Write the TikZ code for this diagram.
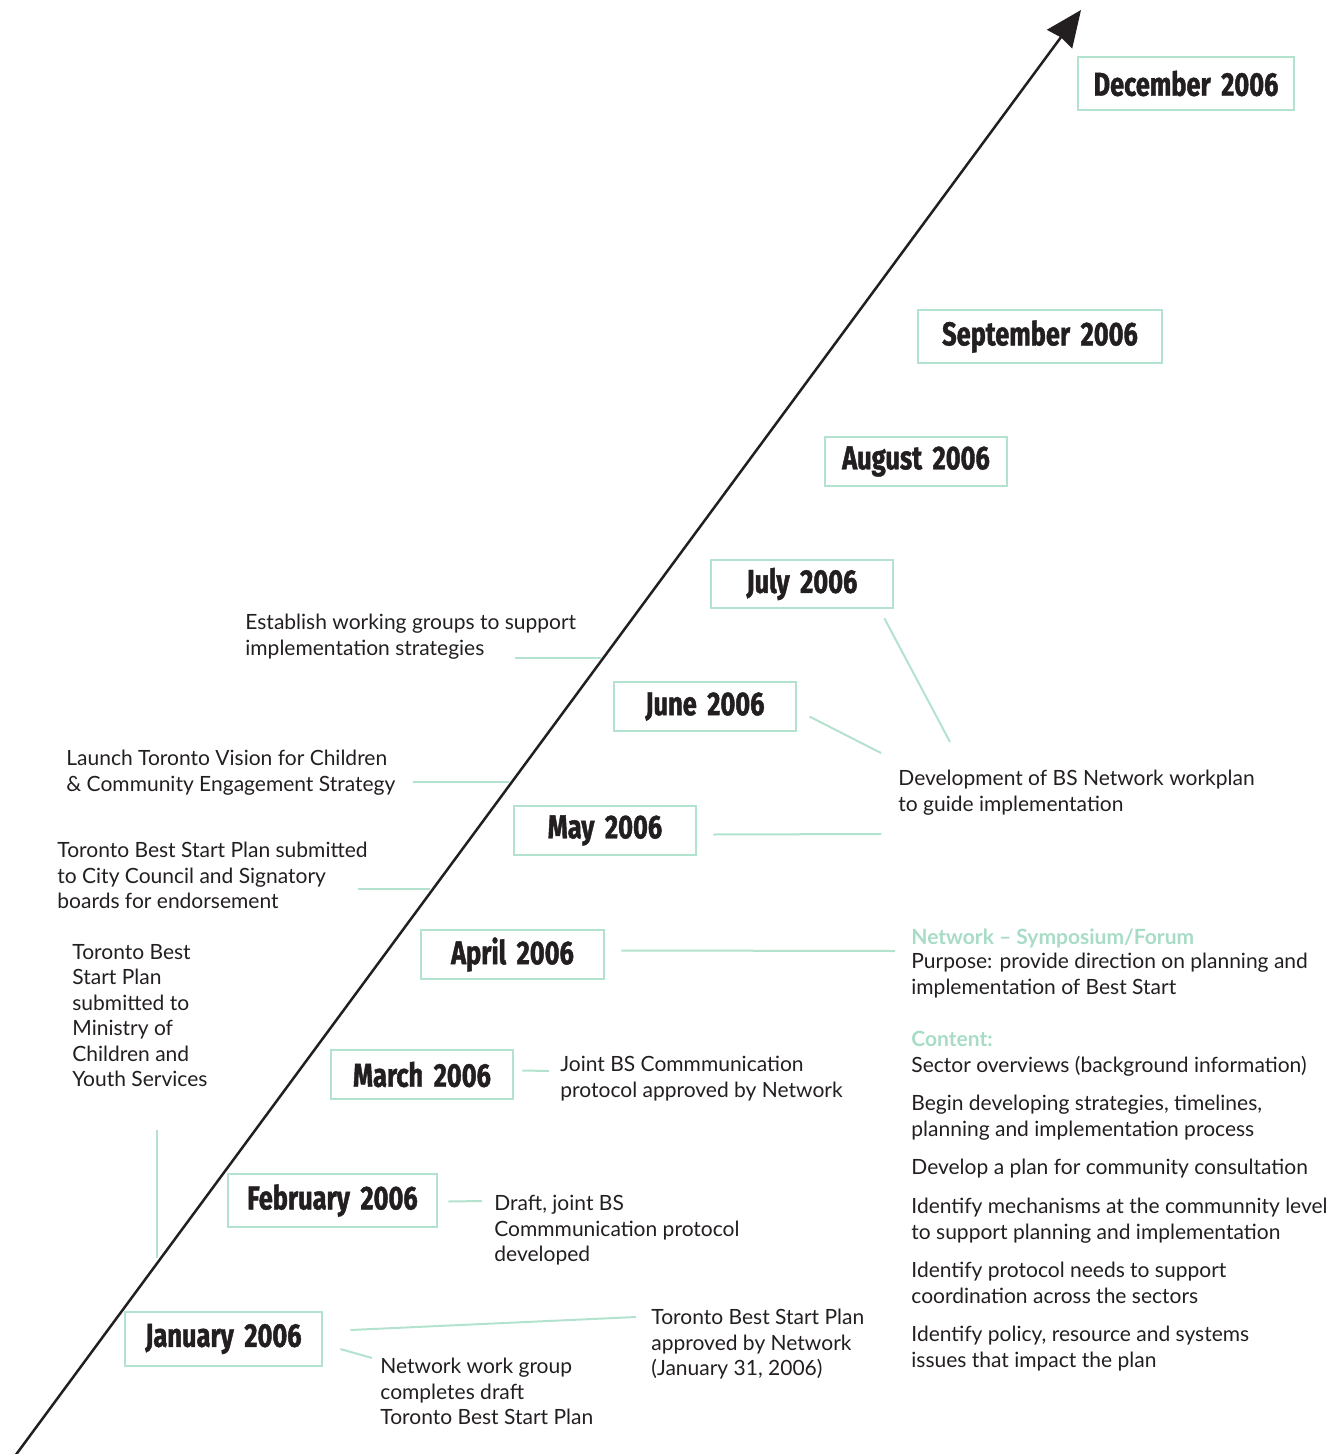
\documentclass[tikz,border=0pt]{standalone}
\usepackage{fontspec}
\setmainfont{Lato}
\newfontfamily\headfont[FakeStretch=0.77,BoldFeatures={FakeBold=1.3}]{Fira Sans}
\usetikzlibrary{arrows.meta}
\definecolor{mint}{HTML}{B3E2CF}
\definecolor{minttext}{HTML}{A8DCC6}
\definecolor{ink}{HTML}{231F20}
\newcommand\headsp{\spaceskip=0.32em\relax}
\tikzset{
  mbox/.style={draw=mint,line width=1.4pt,inner sep=0pt,font=\headfont\bfseries\fontsize{16.5}{18}\selectfont\headsp,text=ink},
  txt/.style={anchor=north west,inner sep=0pt,align=left,font=\fontsize{10.5}{12.75}\selectfont,text=ink},
  conn/.style={draw=mint,line width=1pt},
}
\begin{document}
\begin{tikzpicture}[x=0.5pt,y=-0.5pt]
\useasboundingbox (0,0) rectangle (1332,1454);
% main arrow
\coordinate (a0) at (15,1456);
\coordinate (a1) at (1081,10);
\draw[line width=1.25pt,ink,-{Triangle[length=18pt,width=15.5pt,inset=1pt]}] (a0) -- (a1);

% month boxes
\node[mbox,minimum width=108pt,minimum height=26.5pt] (dec) at (1186,83.5) {\raisebox{-1pt}{December 2006}};
\node[mbox,minimum width=122pt,minimum height=26.5pt] (sep) at (1040,336.5) {\raisebox{-1pt}{September 2006}};
\node[mbox,minimum width=91pt,minimum height=24.5pt] (aug) at (916,461.5) {\raisebox{-1pt}{August 2006}};
\node[mbox,minimum width=91pt,minimum height=24pt] (jul) at (802,584) {\raisebox{-1pt}{July 2006}};
\node[mbox,minimum width=91pt,minimum height=24.5pt] (jun) at (705,706.5) {\raisebox{-1pt}{June 2006}};
\node[mbox,minimum width=91pt,minimum height=24.5pt] (may) at (605,830.5) {\raisebox{-1pt}{May 2006}};
\node[mbox,minimum width=91.5pt,minimum height=24.5pt] (apr) at (512.5,954.5) {\raisebox{-1pt}{April 2006}};
\node[mbox,minimum width=91pt,minimum height=24.5pt] (mar) at (422,1074.5) {\raisebox{-1pt}{March 2006}};
\node[mbox,minimum width=104.5pt,minimum height=26.5pt] (feb) at (332.5,1200.5) {\raisebox{-1pt}{February 2006}};
\node[mbox,minimum width=98.5pt,minimum height=27pt] (jan) at (223.5,1339) {\raisebox{-1pt}{January 2006}};

% left texts
\node[txt] (t1) at (245,614) {Establish working groups to support\\implementation strategies};
\node[txt] (t2) at (66,750) {Launch Toronto Vision for Children\\\& Community Engagement Strategy};
\node[txt] (t3) at (57,842) {Toronto Best Start Plan submitted\\to City Council and Signatory\\boards for endorsement};
\node[txt] (t4) at (72,944) {Toronto Best\\Start Plan\\submitted to\\Ministry of\\Children and\\Youth Services};

\coordinate (c1a) at (515,658); \coordinate (c1b) at (601,658);
\draw[conn] (c1a) -- (c1b);
\coordinate (c2a) at (413,782); \coordinate (c2b) at (509,782);
\draw[conn] (c2a) -- (c2b);
\coordinate (c3a) at (358,889); \coordinate (c3b) at (430,889);
\draw[conn] (c3a) -- (c3b);
\coordinate (c4a) at (157,1130); \coordinate (c4b) at (157,1258);
\draw[conn] (c4a) -- (c4b);

% right texts
\node[txt] (dev) at (898,770) {Development of BS Network workplan\\to guide implementation};
\coordinate (dv1) at (950,742); \coordinate (dv2) at (881,753); \coordinate (dv3) at (881,834);
\draw[conn] ([shift={(-10,9)}]jul.south east) -- (dv1);
\draw[conn] ([shift={(12,10)}]jun.east) -- (dv2);
\draw[conn] ([shift={(16,4)}]may.east) -- (dv3);

\node[txt] (joint) at (560,1056) {Joint BS Commmunication\\protocol approved by Network};
\draw[conn] ([shift={(8,-4)}]mar.east) -- ([shift={(-11,15)}]joint.north west);

\node[txt] (draft) at (494,1195) {Draft, joint BS\\Commmunication protocol\\developed};
\draw[conn] ([shift={(10,1)}]feb.east) -- ([shift={(-12,6)}]draft.north west);

\node[txt] (appr) at (651,1309) {Toronto Best Start Plan\\approved by Network\\(January 31, 2006)};
\draw[conn] ([shift={(27,-9)}]jan.east) -- ([shift={(-15,8)}]appr.north west);

\node[txt] (nwg) at (380,1358) {Network work group\\completes draft\\Toronto Best Start Plan};
\draw[conn] ([shift={(17,10)}]jan.east) -- ([shift={(-8,0)}]nwg.north west);

% April symposium block
\node[txt,text=minttext,font=\fontsize{10.5}{12.75}\selectfont\bfseries] (sym) at (911,928) {Network -- Symposium/Forum};
\node[txt] (purp) at (911,953) {Purpose: provide direction on planning and\\implementation of Best Start};
\draw[conn] ([shift={(16,-4)}]apr.east) -- ([shift={(-16,-2)}]purp.north west);
\node[txt,text=minttext,font=\fontsize{10.5}{12.75}\selectfont\bfseries] (cont) at (911,1031) {Content:};
\node[txt] (i1) at (911,1056) {Sector overviews (background information)};
\node[txt] (i2) at (911,1095) {Begin developing strategies, timelines,\\planning and implementation process};
\node[txt] (i3) at (911,1159) {Develop a plan for community consultation};
\node[txt] (i4) at (911,1198) {Identify mechanisms at the communnity level\\to support planning and implementation};
\node[txt] (i5) at (911,1262) {Identify protocol needs to support\\coordination across the sectors};
\node[txt] (i6) at (911,1326) {Identify policy, resource and systems\\issues that impact the plan};
\end{tikzpicture}
\end{document}
